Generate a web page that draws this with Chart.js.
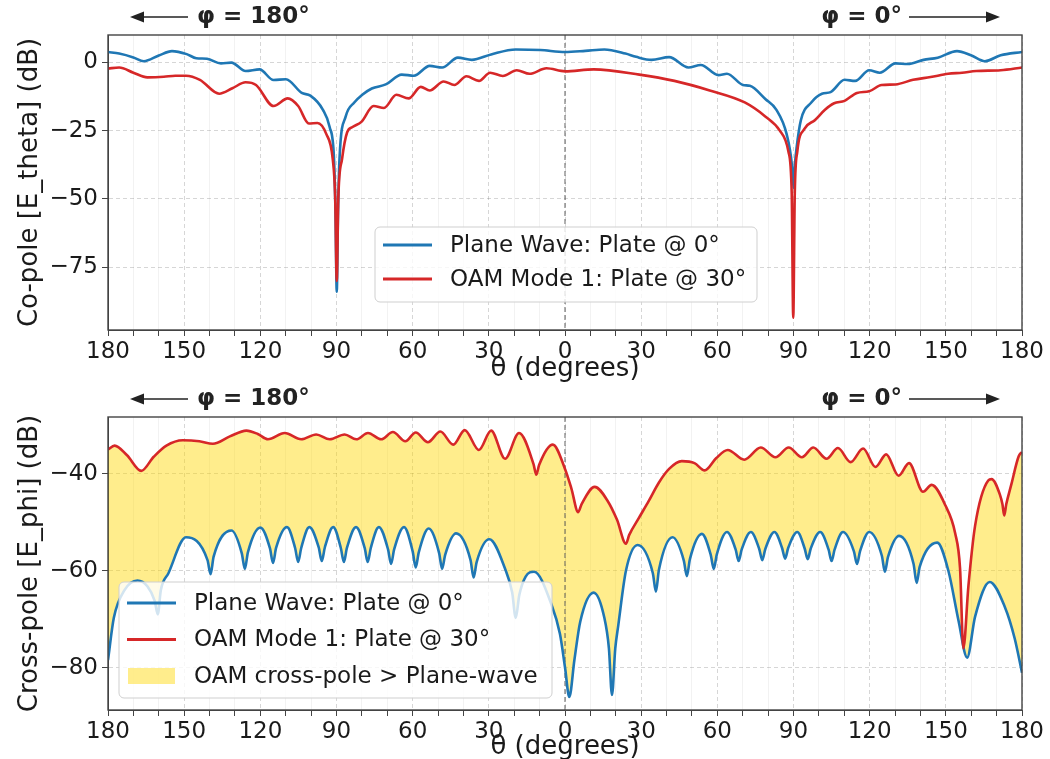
<!DOCTYPE html>
<html>
<head>
<meta charset="utf-8">
<script src="https://cdn.jsdelivr.net/npm/chart.js@4.4.1/dist/chart.umd.min.js"></script>
<style>
  html, body { margin: 0; padding: 0; background: #fff; overflow: hidden; }
  #wrap { position: relative; width: 1050px; height: 759px; overflow: hidden; }
  .panel { position: absolute; left: 0; width: 1050px; }
  #coPanel { top: 0; height: 390px; }
  #crossPanel { top: 380px; height: 389px; }
</style>
</head>
<body>
<div id="wrap">
  <div class="panel" id="coPanel"><canvas id="coChart" width="1050" height="390"></canvas></div>
  <div class="panel" id="crossPanel"><canvas id="crossChart" width="1050" height="389"></canvas></div>
</div>
<script>
// theta axis: left half is phi = 180 side, right half is phi = 0 side
const xMajorTicks = [-180, -150, -120, -90, -60, -30, 0, 30, 60, 90, 120, 150, 180];
const xMinorStep = 10;
const coYTicks = [0, -25, -50, -75];
const crossYTicks = [-40, -60, -80];

// Co-pole, plane wave (blue)
const planeCoX = [-180, -175.6, -170, -165.9, -160, -154.8, -149, -145.2, -141, -135.5, -131.4, -125.8, -120.3, -114.8, -109.9, -103.7, -100.3, -95.4, -92.7, -91, -90.4, -89.9, -89.4, -88.8, -86.4, -83, -80, -76.1, -70.6, -64.3, -59.5, -53.3, -48.4, -42.2, -36.7, -29.1, -19.4, -9.7, 0, 8, 15.5, 23.8, 28, 34.1, 41, 48.6, 53.5, 60.4, 63.8, 70.1, 72.8, 79, 83.2, 87.3, 89.4, 90, 90.6, 91.2, 92.9, 97, 101.2, 104.6, 110.1, 114.3, 119.8, 124, 130.2, 135, 141.2, 146.8, 154.4, 159.9, 165.4, 171.6, 180];
const planeCoY = [3.8, 3.2, 1.8, 0.4, 2.5, 4.1, 3.0, 1.5, 1.3, -0.4, -0.1, -3.2, -2.6, -6.5, -6.2, -11.2, -12.2, -17.3, -23.7, -35, -55, -84, -55, -35, -19.9, -14.7, -12, -9.6, -8.1, -4.5, -4.9, -1.3, -1.9, 1.7, 0.9, 2.9, 4.7, 4.5, 3.8, 4.2, 4.7, 3.2, 2.0, 0.9, 1.9, -1.9, -1.0, -4.7, -4.2, -8.3, -8.6, -13.5, -17.3, -26.3, -37.8, -46, -37, -31.4, -21.2, -14.7, -11.5, -10.9, -6.4, -6.8, -2.9, -3.8, -0.4, -0.6, 0.9, 1.7, 4.1, 2.6, 0.4, 2.6, 3.8];

// Co-pole, OAM mode 1 (red)
const oamCoX = [-180, -175.6, -170, -164.5, -158, -153.5, -149.3, -143.8, -136.2, -131, -125.8, -121.7, -114.8, -109.2, -105.1, -100.9, -97.5, -94, -91.5, -90.5, -89.9, -89.3, -87.8, -85.8, -83.7, -80.2, -75.4, -71.3, -66.4, -61.6, -56.8, -53.3, -47.8, -43.6, -38.8, -33.9, -29.5, -24.5, -19, -14, -7.3, 0, 11.3, 29.3, 43.1, 57, 70.8, 79, 84.6, 88, 89.3, 89.9, 90.5, 91.5, 94.3, 98.4, 102.5, 106, 110.1, 115, 119.8, 124.7, 130.2, 137.1, 144, 150.9, 156.4, 162, 171.6, 180];
const oamCoY = [-2.3, -1.9, -3.8, -5.5, -5.3, -4.9, -4.9, -6.4, -11.5, -9.5, -7.3, -8.3, -16, -13.2, -16, -22.4, -22.2, -26.3, -35.3, -50, -80, -50, -35.3, -25.6, -23.7, -21.8, -16, -16.7, -11.9, -13.2, -9, -10.3, -7, -8.3, -5.1, -6.8, -3.8, -5.0, -2.9, -4.2, -2.2, -3.3, -2.6, -4.5, -6.8, -10.3, -14.7, -19.9, -25, -32.7, -48, -93.5, -48, -32.7, -24.4, -21.2, -17.3, -15, -14.1, -11.2, -10.6, -8.3, -8.1, -6.4, -5.4, -4.2, -3.8, -3.2, -2.9, -1.9];

// Cross-pole, plane wave (blue)
const planeCrossX = [-180, -177.7, -173.5, -168.4, -164.5, -161.6, -160.4, -159.2, -156.2, -149.3,
  -140.8, -139.6, -138.4, -131.4, -127.3, -126.1, -124.9, -120, -116.2, -115, -113.8, -109.5,
  -106.3, -105.1, -103.9, -100.7, -97, -95.8, -94.6, -91.3, -88.3, -87.1, -85.9, -82.3,
  -78.9, -77.7, -76.5, -73.3, -69.7, -68.5, -67.3, -63.4, -60, -58.8, -57.6, -53.7,
  -49.6, -48.4, -47.2, -42.9, -37.2, -36, -34.8, -29.8, -23.6, -20.8, -19.4, -18, -15.5, -12.2,
  -5.3, -2, 0, 1.7, 3.7, 6, 11.3, 15.5, 17.3, 18.5, 19.8, 21, 24, 28.6,
  34.6, 35.8, 37, 42.4, 46.8, 48, 49.2, 53.9, 57.4, 58.6, 59.8, 63.8,
  67.2, 68.4, 69.6, 73.2, 76.5, 77.7, 78.9, 82.5, 85.5, 86.7, 87.9, 91.5,
  94.4, 95.6, 96.8, 100.5, 103.8, 105, 106.2, 109.5, 113.8, 115, 116.2, 119.8,
  124.8, 126, 127.2, 131.6, 137.3, 138.5, 139.7, 146.6, 151, 155, 158.4, 161.5, 167.3, 173.2, 177.1, 180];
const planeCrossY = [-78.4, -69.7, -64, -62, -63.2, -66.2, -69, -64, -60.5, -53.1,
  -57.8, -60.7, -57.1, -51.7, -56.4, -59.6, -56.2, -51.1, -55.4, -58.4, -55.3, -51,
  -55.3, -58.2, -55.3, -51, -55.2, -58, -55.2, -51, -55.3, -58.2, -55.3, -51,
  -55.3, -58.2, -55.3, -51, -55.6, -58.6, -55.6, -51, -56, -59.3, -56.2, -51.3,
  -56.3, -59.6, -56.7, -52.3, -57.8, -61.4, -58.2, -53.5, -59.6, -64.5, -69.7, -65, -61.2, -60.2,
  -67, -73, -79.9, -86, -78.4, -70.5, -64.5, -69.7, -76, -85.6, -76, -71.2, -60, -54.7,
  -60.5, -64.3, -59.8, -53.1, -57.9, -61.1, -57.6, -52.4, -56.7, -59.6, -56.6, -52,
  -55.6, -58, -55.6, -52, -55.5, -57.8, -55.5, -52, -55.3, -57.5, -55.3, -52,
  -55.4, -57.6, -55.4, -52, -55.6, -58, -55.6, -52, -56, -58.6, -56, -52,
  -56.9, -60.2, -57.2, -52.8, -58.6, -62.5, -59.2, -54.2, -60, -70.3, -77.9, -69.5, -62.3, -67.4, -73.9, -81];

// Cross-pole, OAM mode 1 (red)
const oamCrossX = [-180, -177.4, -172.5, -166.9, -162, -157, -150.5, -144, -138.7, -132, -125.5, -121, -117,
  -110.4, -103.9, -98, -92.7, -86.8, -82.2, -77.6, -72.4, -67.8, -62.9, -58.8, -54, -49.1, -44, -39.5,
  -33.9, -29.1, -23.6, -18.1, -12.4, -11.3, -10.2, -4.8, 0, 2.5, 5.2, 6.5, 11.7, 16.8, 20.5, 24, 25.3,
  29, 33, 37, 41, 46, 51, 55, 59.5, 64.1, 70.6, 77.1, 82.9, 88.1, 93.3, 97.8, 103, 107.5, 112.5,
  117.4, 122.3, 126.5, 131.4, 135.5, 141, 144.4, 149.8, 153.7, 155.6, 156.9, 158.9, 161.5, 166.7, 168,
  171.3, 172.3, 173, 173.8, 175.8, 178.7, 180];
const oamCrossY = [-35, -34.2, -36.2, -39.4, -36.5, -34.2, -33.1, -33.3, -33.8, -32.3, -31.1, -31.8, -32.9,
  -31.6, -32.9, -31.9, -32.9, -31.9, -32.9, -31.6, -32.9, -31.4, -33.3, -31.5, -33.5, -31.3, -34, -31,
  -35.1, -31.1, -36.9, -31.6, -38, -40.2, -38.2, -34, -39, -43, -47.9, -46.3, -42.7, -45.6, -49.5, -54.4, -52.6,
  -49.2, -45.6, -41.8, -39, -37.4, -37.8, -39.3, -36.8, -35.1, -37.1, -34.6, -36.6, -34.6, -36.6, -34.6, -36.9, -34.7, -37.6,
  -34.8, -38.6, -36, -40.4, -37.8, -43.7, -42.3, -46.5, -52.3, -59.5, -76, -63.1, -50.8, -41.4, -41.1,
  -44.3, -46.3, -48.6, -46.3, -42.2, -36.4, -35.5];

const BLUE = "#1f77b4";
const RED = "#d62728";
const FILL = "rgba(255, 215, 0, 0.45)";
const FONT = "'DejaVu Sans', sans-serif";

Chart.defaults.font.family = FONT;
Chart.defaults.color = "#222";

function toPoints(xs, ys) {
  return xs.map((x, i) => ({ x: x, y: ys[i] }));
}

function minusLabel(v) {
  return v < 0 ? "\u2212" + Math.abs(v) : String(v);
}

function drawArrow(ctx, xFrom, xTo, y) {
  const dir = Math.sign(xTo - xFrom);
  ctx.beginPath();
  ctx.moveTo(xFrom, y);
  ctx.lineTo(xTo - dir * 10, y);
  ctx.stroke();
  ctx.beginPath();
  ctx.moveTo(xTo, y);
  ctx.lineTo(xTo - dir * 14, y - 5.5);
  ctx.lineTo(xTo - dir * 14, y + 5.5);
  ctx.closePath();
  ctx.fill();
}

// zero line, legend box, frame and phi annotations
const decorPlugin = {
  id: "decor",
  beforeDatasetsDraw(chart) {
    const { ctx, chartArea } = chart;
    const x0 = chart.scales.x.getPixelForValue(0);
    ctx.save();
    ctx.strokeStyle = "rgba(90, 90, 90, 0.8)";
    ctx.lineWidth = 1.2;
    ctx.setLineDash([5, 3]);
    ctx.beginPath();
    ctx.moveTo(x0, chartArea.top);
    ctx.lineTo(x0, chartArea.bottom);
    ctx.stroke();
    ctx.restore();
  },
  afterDatasetsDraw(chart, args, opts) {
    const { ctx, chartArea } = chart;
    const lg = opts.legend;
    const left = chartArea.left + lg.dx;
    const top = chartArea.top + lg.dy;
    ctx.save();
    ctx.beginPath();
    if (ctx.roundRect) ctx.roundRect(left, top, lg.w, lg.h, 5);
    else ctx.rect(left, top, lg.w, lg.h);
    ctx.fillStyle = "rgba(255, 255, 255, 0.8)";
    ctx.fill();
    ctx.strokeStyle = "#cfcfcf";
    ctx.lineWidth = 1;
    ctx.stroke();
    ctx.font = "23px " + FONT;
    ctx.textBaseline = "middle";
    lg.items.forEach((it, i) => {
      const y = top + lg.first + i * lg.step;
      if (it.patch) {
        ctx.fillStyle = it.color;
        ctx.fillRect(left + 9, y - 8, 47, 16);
      } else {
        ctx.strokeStyle = it.color;
        ctx.lineWidth = 3;
        ctx.beginPath();
        ctx.moveTo(left + 8, y);
        ctx.lineTo(left + 57, y);
        ctx.stroke();
      }
      ctx.fillStyle = "#1a1a1a";
      ctx.fillText(it.text, left + 75, y + 1);
    });
    ctx.restore();
  },
  afterDraw(chart) {
    const { ctx, chartArea } = chart;
    ctx.save();
    ctx.strokeStyle = "#444";
    ctx.lineWidth = 1.4;
    ctx.strokeRect(chartArea.left, chartArea.top, chartArea.right - chartArea.left, chartArea.bottom - chartArea.top);

    const y = chartArea.top - 18;
    ctx.strokeStyle = "#222";
    ctx.fillStyle = "#222";
    ctx.lineWidth = 1.6;
    drawArrow(ctx, chartArea.left + 80, chartArea.left + 22, y);
    drawArrow(ctx, chartArea.right - 113, chartArea.right - 22, y);
    ctx.font = "bold 23px " + FONT;
    ctx.textBaseline = "middle";
    ctx.textAlign = "left";
    ctx.fillText("\u03c6 = 180\u00b0", chartArea.left + 89, y);
    ctx.textAlign = "right";
    ctx.fillText("\u03c6 = 0\u00b0", chartArea.right - 120, y);
    ctx.restore();
  }
};

function makeChart(canvasId, cfg) {
  const ctx = document.getElementById(canvasId).getContext("2d");
  return new Chart(ctx, {
    type: "line",
    data: { datasets: cfg.datasets },
    options: {
      responsive: false,
      animation: false,
      events: [],
      devicePixelRatio: 1,
      layout: { padding: { left: 0, right: 28, top: cfg.padTop, bottom: 0 } },
      elements: { point: { radius: 0 }, line: { borderWidth: 2.6, cubicInterpolationMode: "monotone" } },
      plugins: {
        legend: { display: false },
        tooltip: { enabled: false },
        filler: { drawTime: "beforeDatasetsDraw" },
        decor: { legend: cfg.legend }
      },
      scales: {
        x: {
          type: "linear",
          min: -180,
          max: 180,
          afterBuildTicks: (scale) => {
            const ticks = [];
            for (let v = -180; v <= 180; v += xMinorStep) ticks.push({ value: v });
            scale.ticks = ticks;
          },
          afterFit: (scale) => { scale.height = cfg.xAxisHeight; },
          ticks: {
            autoSkip: false,
            maxRotation: 0,
            padding: 2,
            font: { size: 23 },
            color: "#1a1a1a",
            callback: (v) => (xMajorTicks.includes(v) ? String(Math.abs(v)) : "")
          },
          grid: {
            color: (c) => (c.tick && c.tick.value % 30 === 0 ? "rgba(0, 0, 0, 0.16)" : "rgba(0, 0, 0, 0.05)"),
            lineWidth: 1,
            tickLength: 6,
            tickColor: "#444"
          },
          border: {
            display: true,
            color: "#444",
            dash: (c) => (c.tick && c.tick.value % 30 === 0 ? [4, 3] : [])
          },
          title: {
            display: true,
            text: "\u03b8 (degrees)",
            font: { size: 26, lineHeight: 1.15 },
            color: "#1a1a1a",
            padding: { top: 0, bottom: cfg.xTitlePad }
          }
        },
        y: {
          type: "linear",
          min: cfg.yMin,
          max: cfg.yMax,
          afterBuildTicks: (scale) => { scale.ticks = cfg.yTicks.map((v) => ({ value: v })); },
          afterFit: (scale) => { scale.width = 108; },
          ticks: { padding: 4, font: { size: 23 }, color: "#1a1a1a", callback: (v) => minusLabel(v) },
          grid: { color: "rgba(0, 0, 0, 0.16)", tickLength: 6, tickColor: "#444" },
          border: { display: true, color: "#444", dash: [4, 3] },
          title: {
            display: true,
            text: cfg.yTitle,
            font: { size: 26, lineHeight: 1.15 },
            color: "#1a1a1a",
            padding: { top: 15, bottom: 0 }
          }
        }
      }
    },
    plugins: [decorPlugin]
  });
}

makeChart("coChart", {
  padTop: 35,
  xAxisHeight: 60,
  xTitlePad: 6,
  yMin: -98,
  yMax: 10,
  yTicks: coYTicks,
  yTitle: "Co-pole [E_theta] (dB)",
  datasets: [
    { label: "Plane Wave: Plate @ 0\u00b0", data: toPoints(planeCoX, planeCoY), borderColor: BLUE, order: 1, fill: false },
    { label: "OAM Mode 1: Plate @ 30\u00b0", data: toPoints(oamCoX, oamCoY), borderColor: RED, order: 0, fill: false }
  ],
  legend: {
    dx: 267, dy: 192, w: 382, h: 75, first: 18, step: 34,
    items: [
      { text: "Plane Wave: Plate @ 0\u00b0", color: BLUE },
      { text: "OAM Mode 1: Plate @ 30\u00b0", color: RED }
    ]
  }
});

makeChart("crossChart", {
  padTop: 37,
  xAxisHeight: 59,
  xTitlePad: 7,
  yMin: -88.7,
  yMax: -28.3,
  yTicks: crossYTicks,
  yTitle: "Cross-pole [E_phi] (dB)",
  datasets: [
    { label: "Plane Wave: Plate @ 0\u00b0", data: toPoints(planeCrossX, planeCrossY), borderColor: BLUE, order: 1, fill: false },
    {
      label: "OAM Mode 1: Plate @ 30\u00b0",
      data: toPoints(oamCrossX, oamCrossY),
      borderColor: RED,
      order: 0,
      fill: { target: 0, above: FILL, below: "rgba(0, 0, 0, 0)" }
    }
  ],
  legend: {
    dx: 11, dy: 165, w: 433, h: 116, first: 21, step: 36.5,
    items: [
      { text: "Plane Wave: Plate @ 0\u00b0", color: BLUE },
      { text: "OAM Mode 1: Plate @ 30\u00b0", color: RED },
      { text: "OAM cross-pole > Plane-wave", color: FILL, patch: true }
    ]
  }
});
</script>
</body>
</html>
